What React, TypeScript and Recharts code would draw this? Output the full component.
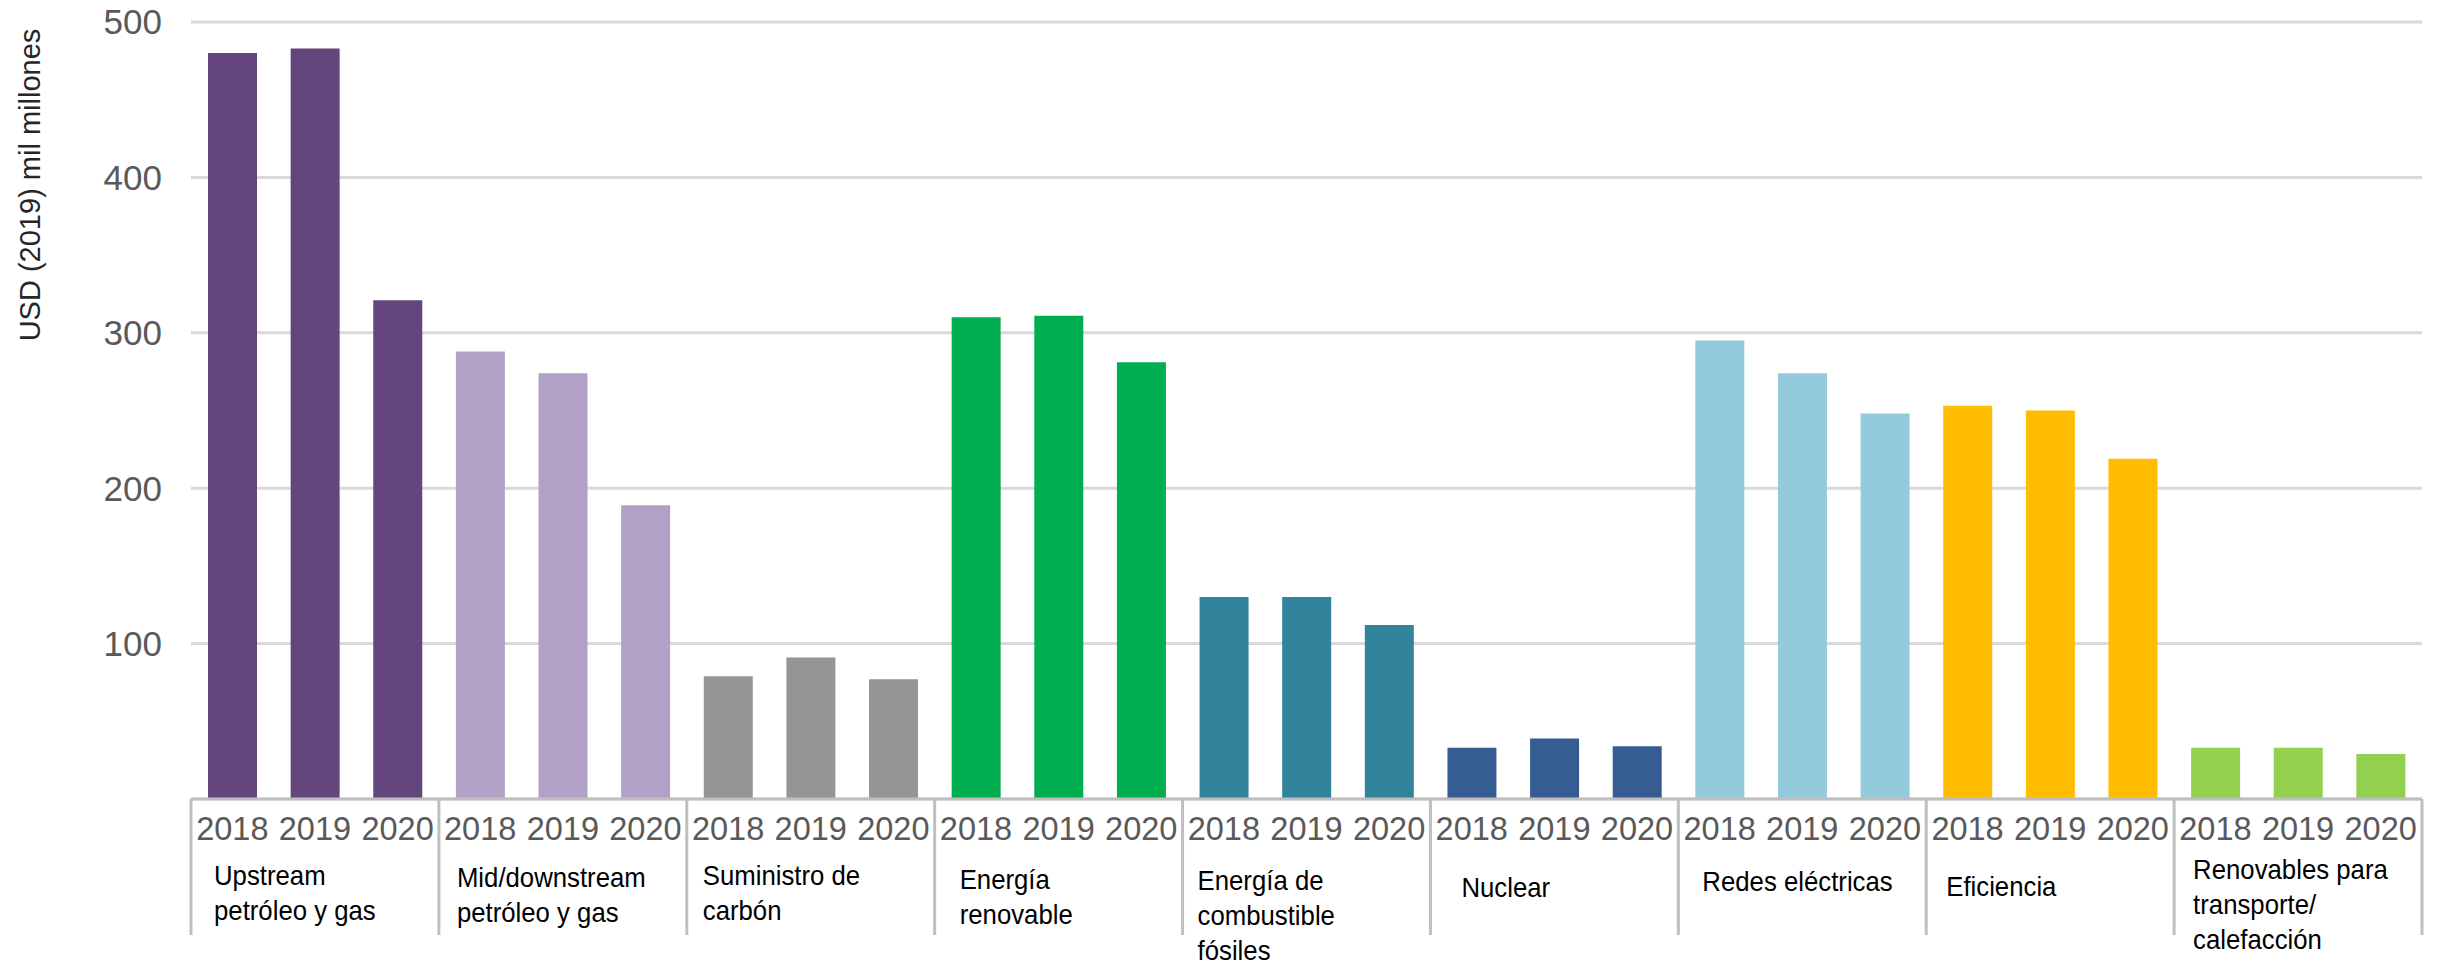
import { Bar, BarChart, CartesianGrid, Cell, XAxis, YAxis } from "recharts";

const years = ["2018", "2019", "2020"];

const sectorLabels = [
  ["Upstream", "petróleo y gas"],
  ["Mid/downstream", "petróleo y gas"],
  ["Suministro de", "carbón"],
  ["Energía", "renovable"],
  ["Energía de", "combustible", "fósiles"],
  ["Nuclear"],
  ["Redes eléctricas"],
  ["Eficiencia"],
  ["Renovables para", "transporte/", "calefacción"],
];

const sectorColors = ["#63467c", "#b1a1c7", "#959595", "#00ad4f", "#32849c", "#365d91", "#94cbdc", "#ffbc00", "#92d050"];

// USD (2019) mil millones
const upstreamOilGas = [480, 483, 321];
const midDownstreamOilGas = [288, 274, 189];
const coalSupply = [79, 91, 77];
const renewablePower = [310, 311, 281];
const fossilPower = [130, 130, 112];
const nuclear = [33, 39, 34];
const grids = [295, 274, 248];
const efficiency = [253, 250, 219];
const renewablesTransportHeat = [33, 33, 29];

const sectorValues = [
  upstreamOilGas,
  midDownstreamOilGas,
  coalSupply,
  renewablePower,
  fossilPower,
  nuclear,
  grids,
  efficiency,
  renewablesTransportHeat,
];

const yTicks = [100, 200, 300, 400, 500];

const W = 2440;
const H = 965;
const margin = { top: 22, right: 18, bottom: 0, left: 0 };
const yAxisWidth = 191;
const xAxisHeight = 166;
const slot = (W - margin.right - margin.left - yAxisWidth) / (sectorValues.length * years.length);

// small per-label nudges, as in the original layout
const labelDx = [23, 18, 16, 25, 15, 31, 24, 20, 19];
const labelDy = [0, 2, 0, 4, 5, 12, 6, 11, -6];

const data = sectorValues.flatMap((vals, s) =>
  vals.map((v, i) => ({ key: `${s}-${i}`, sector: s, yearIdx: i, year: years[i], value: v }))
);
const byKey: Record<string, (typeof data)[number]> = Object.fromEntries(data.map((d) => [d.key, d]));

function XTick(props: any) {
  const { x, y, payload } = props;
  const d = byKey[payload.value];
  if (!d) return null;
  const left = x - slot / 2;
  const lx = left + labelDx[d.sector];
  const ly = y + 86 + labelDy[d.sector];
  const isLast = d.key === data[data.length - 1].key;
  return (
    <g>
      <text x={x} y={y + 41} textAnchor="middle" fontSize={32.5} fill="#595959">
        {d.year}
      </text>
      {d.yearIdx === 0 && (
        <>
          <line x1={left} x2={left} y1={y} y2={y + 136} stroke="#bfbfbf" strokeWidth={3} />
          <g transform={`translate(${lx},${ly}) scale(0.92,1)`}>
            <text x={0} y={0} fontSize={28} fill="#000">
              {sectorLabels[d.sector].map((line, i) => (
                <tspan key={i} x={0} dy={i === 0 ? 0 : 35}>
                  {line}
                </tspan>
              ))}
            </text>
          </g>
        </>
      )}
      {isLast && <line x1={x + slot / 2} x2={x + slot / 2} y1={y} y2={y + 136} stroke="#bfbfbf" strokeWidth={3} />}
    </g>
  );
}

export default function App() {
  return (
    <div
      style={{
        position: "absolute",
        left: 0,
        top: 0,
        width: W,
        height: H,
        background: "#fff",
        fontFamily: "'Liberation Sans', Arial, sans-serif",
      }}
    >
      <BarChart width={W} height={H} data={data} margin={margin} barSize={49}>
        <CartesianGrid vertical={false} stroke="#d9d9d9" strokeWidth={3} />
        <XAxis
          dataKey="key"
          interval={0}
          height={xAxisHeight}
          tickLine={false}
          tickSize={0}
          tickMargin={0}
          axisLine={{ stroke: "#bfbfbf", strokeWidth: 3 }}
          tick={<XTick />}
        />
        <YAxis
          width={yAxisWidth}
          domain={[0, 500]}
          ticks={yTicks}
          axisLine={false}
          tickLine={false}
          tickSize={0}
          tickMargin={29}
          tick={{ fontSize: 35, fill: "#595959" }}
          label={{
            content: () => (
              <text transform="translate(40,185) rotate(-90)" textAnchor="middle" fontSize={29} fill="#262626">
                USD (2019) mil millones
              </text>
            ),
          }}
        />
        <Bar dataKey="value" isAnimationActive={false}>
          {data.map((d) => (
            <Cell key={d.key} fill={sectorColors[d.sector]} />
          ))}
        </Bar>
      </BarChart>
    </div>
  );
}
